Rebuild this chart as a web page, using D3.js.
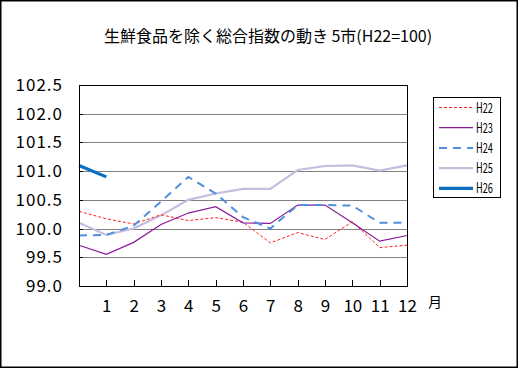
<!DOCTYPE html>
<html><head><meta charset="utf-8">
<script src="https://cdn.jsdelivr.net/npm/d3@7"></script>
<style>
html,body{margin:0;padding:0;background:#fff;}
svg{display:block;}
text{font-family:"Noto Sans CJK JP","Noto Sans",sans-serif;}
</style></head>
<body>
<svg id="c" width="519" height="369"></svg>
<script>
const title = "生鮮食品を除く総合指数の動き 5市(H22=100)";
const months = [0,1,2,3,4,5,6,7,8,9,10,11,12];
const monthLabels = ["","1","2","3","4","5","6","7","8","9","10","11","12"];
const yTicks = [99.0,99.5,100.0,100.5,101.0,101.5,102.0,102.5];
const seriesNames = ["H22","H23","H24","H25","H26"];
const h22 = [100.30,100.17,100.08,100.24,100.14,100.19,100.11,99.75,99.93,99.81,100.12,99.67,99.71];
const h23 = [99.71,99.55,99.76,100.07,100.27,100.38,100.10,100.09,100.41,100.41,100.10,99.78,99.88];
const h24 = [99.88,99.89,100.05,100.47,100.90,100.61,100.20,100.00,100.41,100.41,100.40,100.10,100.10];
const h25 = [100.10,99.89,100.00,100.23,100.50,100.61,100.69,100.69,101.02,101.09,101.10,101.01,101.10];
const h26 = [101.10,100.90];

const svg = d3.select("#c");
const W = 519, H = 369;
const L = 79, R = 407, T = 85, B = 286;

svg.append("rect").attr("x",0.75).attr("y",0.75).attr("width",W-2.5).attr("height",H-2.5)
  .attr("fill","#fff").attr("stroke","#000").attr("stroke-width",1.5);

const x = d3.scaleLinear().domain([0,12]).range([L,R]);
const y = d3.scaleLinear().domain([99,102.5]).range([B,T]);

svg.append("text").attr("x",268).attr("y",42).attr("text-anchor","middle")
  .attr("font-size",16).attr("xml:space","preserve").text(title);

// gridlines
const grid = svg.append("g");
yTicks.slice(1,-1).forEach(v=>{
  grid.append("line").attr("x1",L).attr("x2",R).attr("y1",Math.round(y(v))+0.5).attr("y2",Math.round(y(v))+0.5)
    .attr("stroke","#808080").attr("stroke-width",1);
});

// y axis labels
const yAxis = d3.axisLeft(y).tickValues(yTicks).tickFormat(d3.format(".1f")).tickSize(0).tickPadding(16);
const ya = svg.append("g").attr("transform",`translate(${L},0)`).call(yAxis);
ya.select(".domain").remove();
ya.selectAll("text").attr("font-size",17).attr("fill","#000")
  .attr("font-family","'Noto Sans CJK JP',sans-serif").attr("letter-spacing","1px");
// inner y ticks
yTicks.forEach(v=>{
  svg.append("line").attr("x1",L).attr("x2",L+4).attr("y1",Math.round(y(v))+0.5).attr("y2",Math.round(y(v))+0.5)
    .attr("stroke","#000");
});

// x axis
const xAxis = d3.axisBottom(x).tickValues(months.slice(1)).tickFormat(d=>monthLabels[d]).tickSize(0).tickPadding(14);
const xa = svg.append("g").attr("transform",`translate(0,${B})`).call(xAxis);
xa.select(".domain").remove();
xa.selectAll("text").attr("font-size",17).attr("fill","#000");
months.slice(1,12).forEach(m=>{
  svg.append("line").attr("x1",Math.round(x(m))+0.5).attr("x2",Math.round(x(m))+0.5)
    .attr("y1",B).attr("y2",B-6).attr("stroke","#000");
});
svg.append("text").attr("x",435).attr("y",307).attr("text-anchor","middle").attr("font-size",14).text("月");

// lines
const styles = {
  H22:{data:h22,color:"#ff2020",width:1,dash:"3,2"},
  H23:{data:h23,color:"#8a1a9a",width:1.2,dash:null},
  H24:{data:h24,color:"#4f8fdc",width:2,dash:"8,6"},
  H25:{data:h25,color:"#c8bcdc",width:2.2,dash:null},
  H26:{data:h26,color:"#0a6fc0",width:3.2,dash:null}
};
const line = d3.line().x((d,i)=>x(months[i])).y(d=>y(d));
const plotG = svg.append("g");
["H25","H22","H23","H24","H26"].forEach(n=>{
  const s = styles[n];
  plotG.append("path").datum(s.data).attr("d",line).attr("fill","none")
    .attr("stroke",s.color).attr("stroke-width",s.width)
    .attr("stroke-dasharray",s.dash).attr("stroke-linejoin","miter");
});

// plot border
svg.append("rect").attr("x",L+0.5).attr("y",T+0.5).attr("width",R-L).attr("height",B-T)
  .attr("fill","none").attr("stroke","#000").attr("stroke-width",1);

// legend
const lg = svg.append("g");
lg.append("rect").attr("x",433.5).attr("y",97.5).attr("width",67).attr("height",100)
  .attr("fill","#fff").attr("stroke","#000").attr("stroke-width",1);
seriesNames.forEach((n,i)=>{
  const s = styles[n];
  const yy = 107.5 + i*20.2;
  lg.append("line").attr("x1",439).attr("x2",473).attr("y1",yy).attr("y2",yy)
    .attr("stroke",s.color).attr("stroke-width",s.width).attr("stroke-dasharray",s.dash);
  lg.append("text").attr("x",476).attr("y",yy+5).attr("font-size",14)
    .attr("font-family","'Liberation Sans Narrow','DejaVu Sans Condensed',sans-serif")
    .attr("textLength",17).attr("lengthAdjust","spacingAndGlyphs").text(n);
});
</script>
</body></html>
